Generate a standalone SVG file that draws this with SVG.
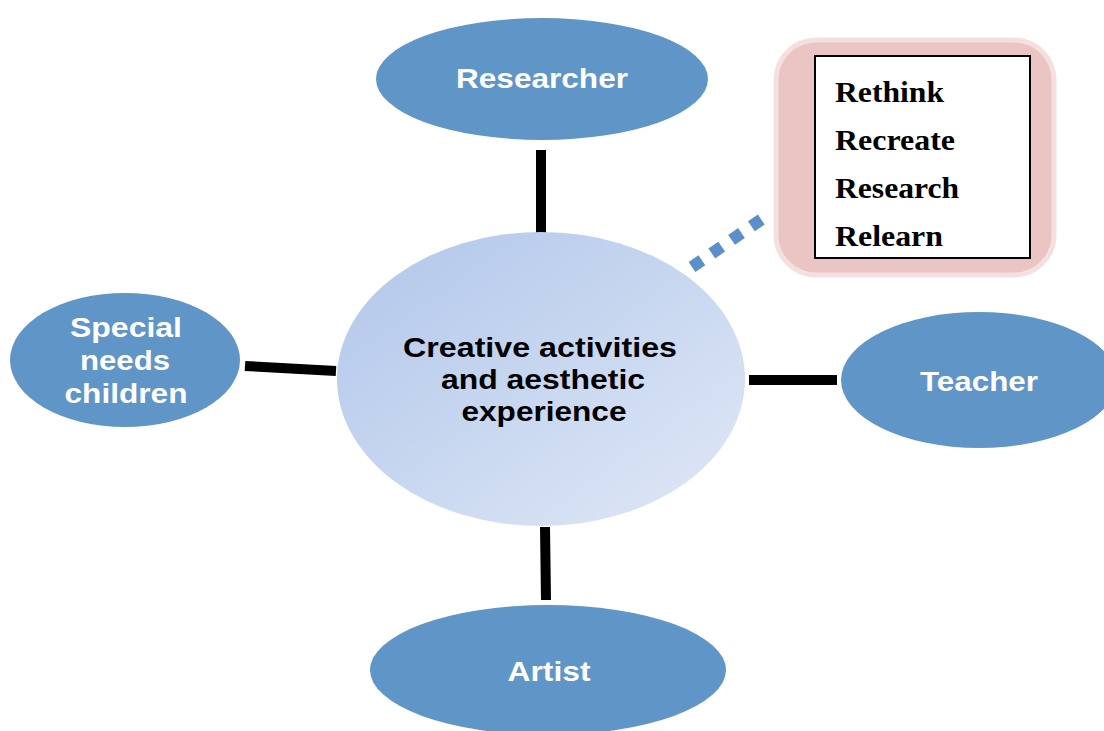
<svg xmlns="http://www.w3.org/2000/svg" width="1104" height="731" viewBox="0 0 1104 731">
<defs>
<linearGradient id="cg" x1="0" y1="0" x2="1" y2="1">
<stop offset="0" stop-color="#b0c6ea"/>
<stop offset="1" stop-color="#e0e8f6"/>
</linearGradient>
<style>
.node{fill:#6095c8;}
.nt{font-family:"Liberation Sans",Arial,sans-serif;font-weight:bold;font-size:28px;fill:#ffffff;text-anchor:middle;}
.ct{font-family:"Liberation Sans",Arial,sans-serif;font-weight:bold;font-size:28px;fill:#000000;text-anchor:middle;}
.rt{font-family:"Liberation Serif","Times New Roman",serif;font-weight:bold;font-size:30px;fill:#000000;}
.conn{stroke:#000000;stroke-width:10;fill:none;}
</style>
</defs>
<rect width="1104" height="731" fill="#ffffff"/>
<g id="connectors">
<line class="conn" x1="541" y1="150" x2="541" y2="233"/>
<line class="conn" x1="245" y1="366" x2="336" y2="371"/>
<line class="conn" x1="749" y1="380" x2="837" y2="380"/>
<line class="conn" x1="545" y1="527" x2="546" y2="600"/>
<line x1="692" y1="267" x2="762" y2="219" stroke="#5b8fc9" stroke-width="12" stroke-dasharray="12 12"/>
</g>
<g id="center">
<ellipse cx="541" cy="379" rx="204" ry="147" fill="url(#cg)"/>
<text class="ct" x="540" y="357" textLength="274" lengthAdjust="spacingAndGlyphs">Creative activities</text>
<text class="ct" x="543" y="389" textLength="204" lengthAdjust="spacingAndGlyphs">and aesthetic</text>
<text class="ct" x="544" y="421" textLength="165" lengthAdjust="spacingAndGlyphs">experience</text>
</g>
<g id="researcher">
<ellipse class="node" cx="542" cy="79" rx="166" ry="61"/>
<text class="nt" x="542" y="88" textLength="172" lengthAdjust="spacingAndGlyphs">Researcher</text>
</g>
<g id="special">
<ellipse class="node" cx="125" cy="360" rx="115" ry="67"/>
<text class="nt" x="126" y="337" textLength="112" lengthAdjust="spacingAndGlyphs">Special</text>
<text class="nt" x="125" y="370" textLength="90" lengthAdjust="spacingAndGlyphs">needs</text>
<text class="nt" x="126" y="403" textLength="123" lengthAdjust="spacingAndGlyphs">children</text>
</g>
<g id="teacher">
<ellipse class="node" cx="979" cy="380" rx="138" ry="68"/>
<text class="nt" x="979" y="391" textLength="118" lengthAdjust="spacingAndGlyphs">Teacher</text>
</g>
<g id="artist">
<ellipse class="node" cx="548" cy="670" rx="178" ry="65"/>
<text class="nt" x="549" y="681" textLength="83" lengthAdjust="spacingAndGlyphs">Artist</text>
</g>
<g id="box">
<rect x="776" y="40" width="278" height="235" rx="40" fill="#ebc4c4" stroke="#f5e0e0" stroke-width="5"/>
<rect x="815" y="56" width="215" height="202" fill="#ffffff" stroke="#000000" stroke-width="2"/>
<text class="rt" x="835" y="102" textLength="109" lengthAdjust="spacingAndGlyphs">Rethink</text>
<text class="rt" x="835" y="150" textLength="120" lengthAdjust="spacingAndGlyphs">Recreate</text>
<text class="rt" x="835" y="198" textLength="124" lengthAdjust="spacingAndGlyphs">Research</text>
<text class="rt" x="835" y="246" textLength="108" lengthAdjust="spacingAndGlyphs">Relearn</text>
</g>
</svg>
